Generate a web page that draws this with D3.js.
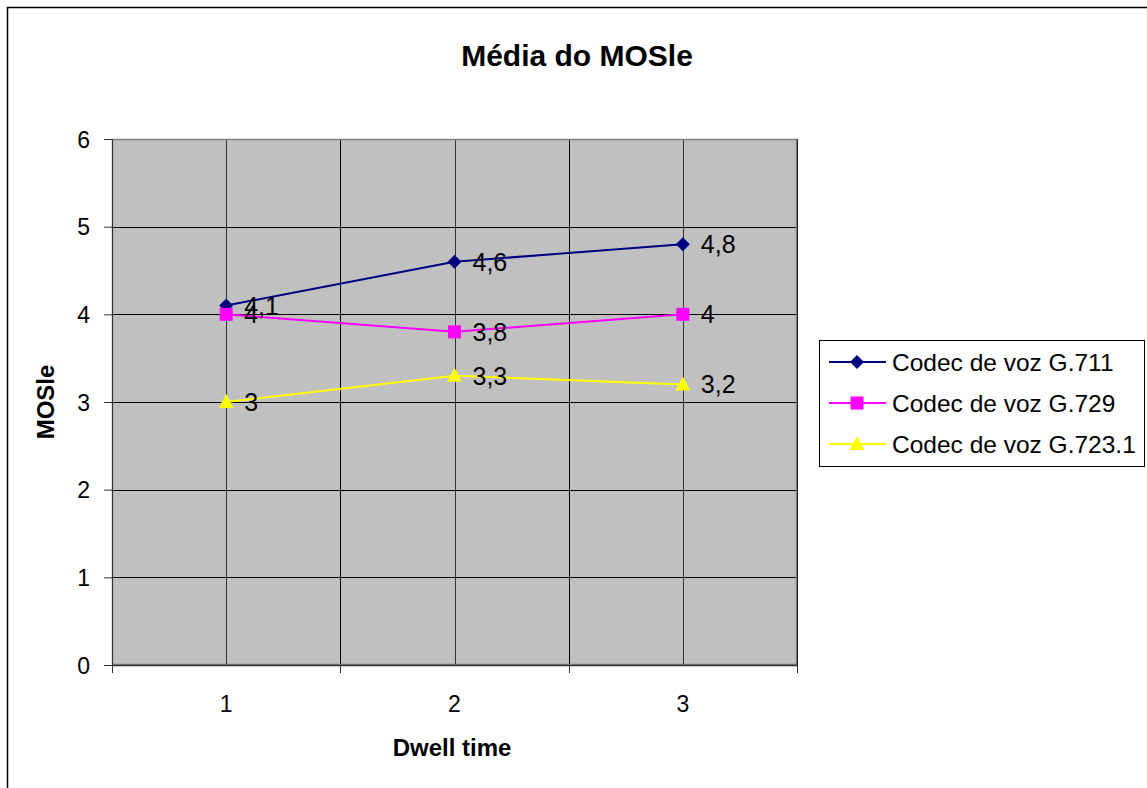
<!DOCTYPE html>
<html><head><meta charset="utf-8">
<script src="https://cdn.jsdelivr.net/npm/d3@7/dist/d3.min.js"></script>
<style>body{margin:0;background:#fff}svg{display:block}text{font-family:"Liberation Sans",Arial,sans-serif}</style>
</head><body><svg id="c" width="1147" height="788"></svg>
<script>
const categories = [1, 2, 3];
const seriesNames = ["Codec de voz G.711", "Codec de voz G.729", "Codec de voz G.723.1"];
const g711 = [4.1, 4.6, 4.8];
const g729 = [4.0, 3.8, 4.0];
const g7231 = [3.0, 3.3, 3.2];
const yTicks = [0, 1, 2, 3, 4, 5, 6];
const title = "Média do MOSle";
const xTitle = "Dwell time";
const yTitle = "MOSle";

const series = [
  {name: seriesNames[0], values: g711, color: "#000080", shape: "diamond"},
  {name: seriesNames[1], values: g729, color: "#FF00FF", shape: "square"},
  {name: seriesNames[2], values: g7231, color: "#FFFF00", shape: "triangle"}
];
function marker(shape) {
  if (shape === "diamond") return "M0,-7L7,0L0,7L-7,0Z";
  if (shape === "square") return "M-6.5,-6.5H6.5V6.5H-6.5Z";
  return "M0,-8L7.5,6L-7.5,6Z";
}

const svg = d3.select("#c");
const L = 112, R = 797, T = 139, B = 665;

svg.append("rect").attr("x", 7.5).attr("y", 7.5).attr("width", 1160).attr("height", 800)
  .attr("fill", "#fff").attr("stroke", "#000").attr("stroke-width", 1.5);

const x = d3.scaleBand().domain(categories).range([L, R]);
const y = d3.scaleLinear().domain([0, 6]).range([B, T]);
const cx = c => x(c) + x.bandwidth() / 2;

svg.append("rect").attr("x", L).attr("y", T).attr("width", R - L).attr("height", B - T)
  .attr("fill", "#C0C0C0");

svg.append("g").selectAll("line").data(yTicks).join("line")
  .attr("x1", L).attr("x2", R).attr("y1", d => Math.round(y(d)) + 0.5).attr("y2", d => Math.round(y(d)) + 0.5)
  .attr("stroke", "#000").attr("stroke-width", 1);

const bounds = categories.map(c => x(c)).concat([R]);
svg.append("g").selectAll("line").data(bounds.slice(1)).join("line")
  .attr("x1", d => Math.round(d) + 0.5).attr("x2", d => Math.round(d) + 0.5).attr("y1", T).attr("y2", B)
  .attr("stroke", "#000");
svg.append("g").selectAll("line").data(categories).join("line")
  .attr("x1", d => Math.round(cx(d)) + 0.5).attr("x2", d => Math.round(cx(d)) + 0.5)
  .attr("y1", T).attr("y2", B).attr("stroke", "#333");

svg.append("rect").attr("x", L + 0.5).attr("y", T + 0.5).attr("width", R - L - 1).attr("height", B - T - 1)
  .attr("fill", "none").attr("stroke", "#808080").attr("stroke-width", 1.5);

const yAxis = d3.axisLeft(y).tickValues(yTicks).tickSize(8).tickPadding(14).tickFormat(d3.format("d"));
const yg = svg.append("g").attr("transform", `translate(${L},0)`).call(yAxis);
yg.select(".domain").attr("stroke", "#333").attr("d", `M0.5,${T}V${B}`);
yg.selectAll(".tick line").attr("stroke", "#333");
yg.selectAll("text").attr("font-size", 23).attr("fill", "#000").attr("dy", "0.36em")
  .style("font-family", "Liberation Sans, Arial, sans-serif");

const xg = svg.append("g").attr("transform", `translate(0,${B})`);
xg.append("line").attr("x1", L).attr("x2", R).attr("y1", 0.5).attr("y2", 0.5).attr("stroke", "#333").attr("stroke-width", 1.5);
xg.selectAll(".tk").data(bounds).join("line").attr("class", "tk")
  .attr("x1", d => Math.round(d) + 0.5).attr("x2", d => Math.round(d) + 0.5).attr("y1", 0).attr("y2", 8).attr("stroke", "#333");
xg.selectAll(".lb").data(categories).join("text").attr("class", "lb")
  .attr("x", d => cx(d)).attr("y", 47).attr("text-anchor", "middle")
  .attr("font-size", 23).text(d => d);

const line = d3.line().x((d, i) => cx(categories[i])).y(d => y(d));
series.forEach(s => {
  svg.append("path").attr("d", line(s.values)).attr("fill", "none").attr("stroke", s.color).attr("stroke-width", 2);
});
series.forEach(s => {
  svg.append("g").selectAll("path").data(s.values).join("path")
    .attr("transform", (d, i) => `translate(${cx(categories[i])},${y(d)})`)
    .attr("d", marker(s.shape)).attr("fill", s.color);
});
series.forEach(s => {
  svg.append("g").selectAll("text").data(s.values).join("text")
    .attr("x", (d, i) => cx(categories[i]) + 18).attr("y", d => y(d) + 9)
    .attr("font-size", 25).text(d => String(d).replace(".", ","));
});

svg.append("text").attr("x", 577).attr("y", 66).attr("text-anchor", "middle")
  .attr("font-size", 30).attr("font-weight", "bold").text(title);
svg.append("text").attr("x", 452).attr("y", 756).attr("text-anchor", "middle")
  .attr("font-size", 24).attr("font-weight", "bold").text(xTitle);
svg.append("text").attr("transform", "translate(54,402) rotate(-90)").attr("text-anchor", "middle")
  .attr("font-size", 24).attr("font-weight", "bold").text(yTitle);

const lg = svg.append("g");
lg.append("rect").attr("x", 819.5).attr("y", 340.5).attr("width", 325).attr("height", 126)
  .attr("fill", "#fff").attr("stroke", "#000");
series.forEach((s, i) => {
  const ly = 362 + i * 41;
  lg.append("line").attr("x1", 829).attr("x2", 886).attr("y1", ly).attr("y2", ly).attr("stroke", s.color).attr("stroke-width", 2);
  lg.append("path").attr("transform", `translate(857,${ly})`).attr("d", marker(s.shape)).attr("fill", s.color);
  lg.append("text").attr("x", 892).attr("y", ly + 9).attr("font-size", 24.5).text(s.name);
});
</script></body></html>
